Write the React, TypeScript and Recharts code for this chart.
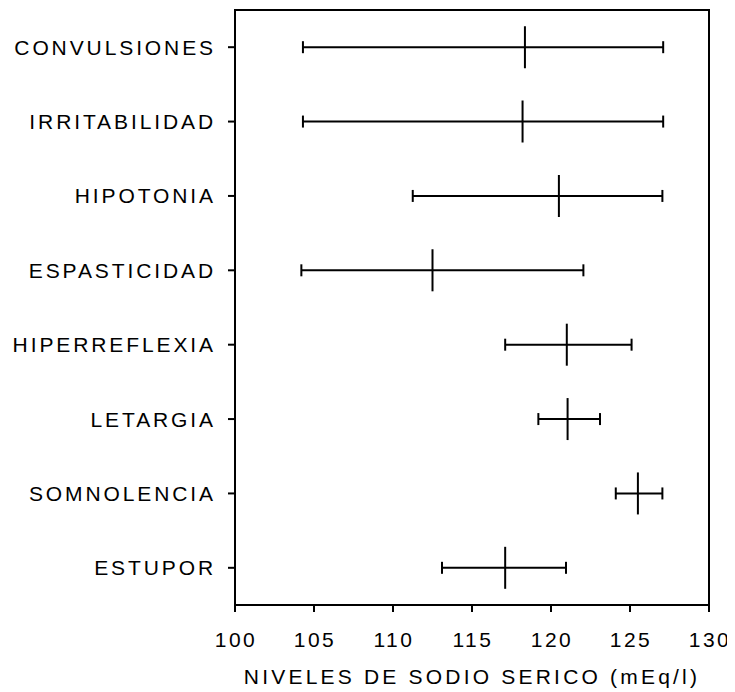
import { ScatterChart, Scatter, XAxis, YAxis, ErrorBar, ReferenceArea } from 'recharts'

const categories = [
  'CONVULSIONES',
  'IRRITABILIDAD',
  'HIPOTONIA',
  'ESPASTICIDAD',
  'HIPERREFLEXIA',
  'LETARGIA',
  'SOMNOLENCIA',
  'ESTUPOR',
]
const means = [118.35, 118.2, 120.5, 112.5, 121.0, 121.05, 125.5, 117.1]
const lows = [104.3, 104.3, 111.25, 104.2, 117.1, 119.2, 124.1, 113.1]
const highs = [127.1, 127.1, 127.05, 122.05, 125.1, 123.1, 127.05, 120.95]
const xTicks = [100, 105, 110, 115, 120, 125, 130]

const data = categories.map((name, i) => ({
  name,
  mean: means[i],
  err: [means[i] - lows[i], highs[i] - means[i]],
}))

const FONT = '"Liberation Sans", Arial, Helvetica, sans-serif'

const XTick = ({ x, y, payload }: any) => (
  <text x={x + 1} y={y + 9} textAnchor="middle" dominantBaseline="central" fontSize={21} fontFamily={FONT} letterSpacing={2.5} fill="#000">
    {payload.value}
  </text>
)

const YTick = ({ x, y, payload }: any) => (
  <text x={x + 3} y={y} textAnchor="end" dominantBaseline="central" fontSize={21} fontFamily={FONT} letterSpacing={2.9} fill="#000">
    {payload.value}
  </text>
)

const MeanMark = ({ cx, cy }: any) => (
  <line x1={cx} x2={cx} y1={cy - 21} y2={cy + 21} stroke="#000" strokeWidth={2} />
)

export default function App() {
  return (
    <ScatterChart width={727} height={684} margin={{ top: 2, right: 26, bottom: 0, left: 0 }}>
      <ReferenceArea x1={100} x2={130} fill="none" stroke="#000" strokeWidth={2} ifOverflow="visible" />
      <XAxis
        type="number"
        dataKey="mean"
        domain={[100, 130]}
        ticks={xTicks}
        allowDataOverflow
        height={87}
        tick={<XTick />}
        tickSize={7}
        tickMargin={18}
        axisLine={{ stroke: '#000', strokeWidth: 2 }}
        tickLine={{ stroke: '#000', strokeWidth: 2 }}
        label={{
          value: 'NIVELES DE SODIO SERICO (mEq/l)',
          position: 'insideBottom',
          offset: 8,
          fontSize: 21,
          fontFamily: FONT,
          letterSpacing: 3.2,
          fill: '#000',
        }}
      />
      <YAxis
        type="category"
        dataKey="name"
        reversed
        width={227}
        tick={<YTick />}
        tickSize={7}
        tickMargin={15}
        axisLine={{ stroke: '#000', strokeWidth: 2 }}
        tickLine={{ stroke: '#000', strokeWidth: 2 }}
        allowDuplicatedCategory={false}
      />
      <Scatter data={data} dataKey="mean" shape={<MeanMark />} isAnimationActive={false}>
        <ErrorBar dataKey="err" direction="x" width={6} stroke="#000" strokeWidth={2} isAnimationActive={false} />
      </Scatter>
    </ScatterChart>
  )
}
